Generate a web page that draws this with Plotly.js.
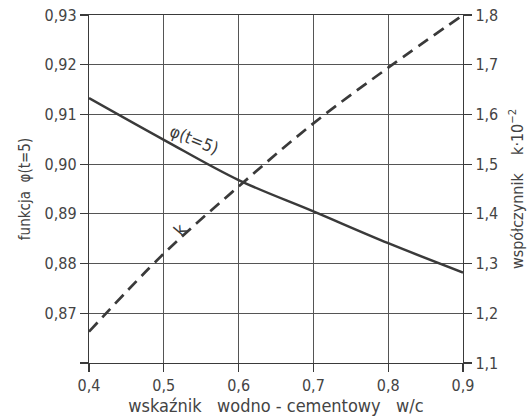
<!DOCTYPE html>
<html>
<head>
<meta charset="utf-8">
<script src="https://cdn.plot.ly/plotly-3.0.1.min.js"></script>
<style>html,body{margin:0;padding:0;background:#fff;}#chart{width:530px;height:419px;}</style>
</head>
<body>
<div id="chart"></div>
<script>
const wc = [0.4, 0.5, 0.6, 0.7, 0.8, 0.9];
const phi = [0.9133, 0.9049, 0.8968, 0.8905, 0.8841, 0.8782];
const k = [1.163, 1.320, 1.455, 1.582, 1.694, 1.800];
const phiTicks = [0.86, 0.87, 0.88, 0.89, 0.90, 0.91, 0.92, 0.93];
const phiTickText = ['', '0,87', '0,88', '0,89', '0,90', '0,91', '0,92', '0,93'];

const ink = '#3a3a3a';
const fontFam = '"Liberation Sans Narrow", "DejaVu Sans Condensed", "DejaVu Sans", sans-serif';

const traces = [
  {x: wc, y: phi, type: 'scatter', mode: 'lines', name: 'φ(t=5)', line: {color: ink, width: 2.5, shape: 'spline'}, yaxis: 'y'},
  {x: wc, y: k, type: 'scatter', mode: 'lines', name: 'k', line: {color: ink, width: 2.7, dash: '12px,7px', shape: 'spline'}, yaxis: 'y2'}
];

const axisCommon = {
  showline: true, linecolor: ink, linewidth: 1.2,
  ticks: 'outside', ticklen: 8, tickcolor: ink, tickwidth: 1.2,
  gridcolor: '#555', gridwidth: 1, zeroline: false,
  tickfont: {family: fontFam, size: 16, color: '#444'}
};

const layout = {
  width: 530, height: 419,
  margin: {l: 89, r: 67, t: 15, b: 56},
  paper_bgcolor: '#fff', plot_bgcolor: '#fff',
  separators: ', ',
  showlegend: false,
  font: {family: fontFam, color: '#444'},
  xaxis: Object.assign({}, axisCommon, {
    range: [0.4, 0.9], dtick: 0.1, tick0: 0.4, tickformat: '.1f', mirror: true,
    title: {text: 'wskaźnik   wodno - cementowy   w/c', font: {family: fontFam, size: 18, color: '#444'}, standoff: 5}
  }),
  yaxis: Object.assign({}, axisCommon, {
    range: [0.86, 0.93], tickmode: 'array', tickvals: phiTicks, ticktext: phiTickText,
    title: {text: 'funkcja  φ(t=5)', font: {family: fontFam, size: 15, color: '#444'}, standoff: 10}
  }),
  yaxis2: Object.assign({}, axisCommon, {
    range: [1.1, 1.8], dtick: 0.1, tick0: 1.1, tickformat: '.1f',
    overlaying: 'y', side: 'right', showgrid: false,
    title: {text: 'współczynnik    k·10<sup>−2</sup>', font: {family: fontFam, size: 16, color: '#444'}, standoff: 14}
  }),
  annotations: [
    {x: 0.5417, y: 0.9049, xref: 'x', yref: 'y', text: 'φ(t=5)', showarrow: false, textangle: 22,
     font: {family: fontFam, size: 17, color: ink}},
    {x: 0.5217, y: 0.8867, xref: 'x', yref: 'y', text: 'k', showarrow: false, textangle: -50,
     font: {family: fontFam, size: 17, color: ink}}
  ]
};

Plotly.newPlot('chart', traces, layout, {displayModeBar: false, staticPlot: true});
</script>
</body>
</html>
